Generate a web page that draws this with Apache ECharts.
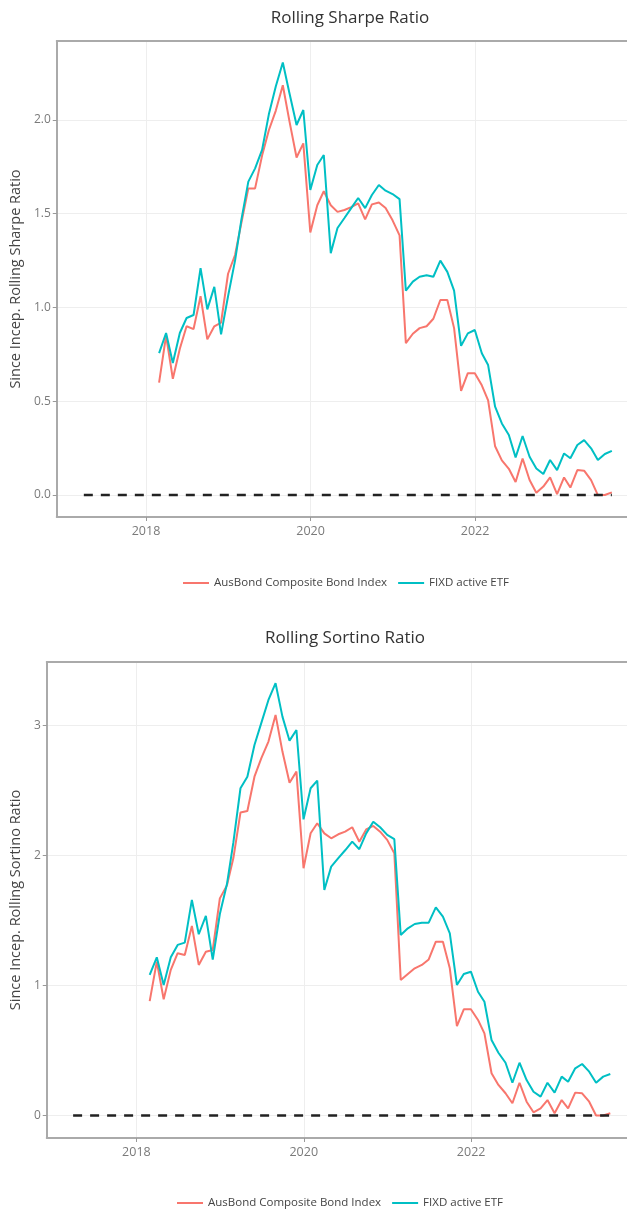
<!DOCTYPE html>
<html>
<head>
<meta charset="utf-8">
<script src="https://cdn.jsdelivr.net/npm/echarts@6/dist/echarts.min.js"></script>
<style>
html,body{margin:0;padding:0;background:#fff;}
#chart{width:627px;height:1209px;}
</style>
</head>
<body>
<div id="chart"></div>
<script>
// Month-end observation dates
const dates = [
 '2018-02-28','2018-03-31','2018-04-30','2018-05-31','2018-06-30','2018-07-31','2018-08-31','2018-09-30','2018-10-31','2018-11-30','2018-12-31',
 '2019-01-31','2019-02-28','2019-03-31','2019-04-30','2019-05-31','2019-06-30','2019-07-31','2019-08-31','2019-09-30','2019-10-31','2019-11-30','2019-12-31',
 '2020-01-31','2020-02-29','2020-03-31','2020-04-30','2020-05-31','2020-06-30','2020-07-31','2020-08-31','2020-09-30','2020-10-31','2020-11-30','2020-12-31',
 '2021-01-31','2021-02-28','2021-03-31','2021-04-30','2021-05-31','2021-06-30','2021-07-31','2021-08-31','2021-09-30','2021-10-31','2021-11-30','2021-12-31',
 '2022-01-31','2022-02-28','2022-03-31','2022-04-30','2022-05-31','2022-06-30','2022-07-31','2022-08-31','2022-09-30','2022-10-31','2022-11-30','2022-12-31',
 '2023-01-31','2023-02-28','2023-03-31','2023-04-30','2023-05-31','2023-06-30','2023-07-31','2023-08-31'
];
const seriesNames = ['AusBond Composite Bond Index', 'FIXD active ETF'];

// Rolling Sharpe ratio
const sharpeAusBond = [
 0.60,0.85,0.62,0.78,0.90,0.885,1.06,0.83,0.90,0.92,1.18,
 1.28,1.45,1.635,1.635,1.81,1.945,2.05,2.185,1.99,1.80,1.875,1.40,
 1.545,1.62,1.545,1.51,1.52,1.535,1.555,1.47,1.55,1.56,1.53,1.465,
 1.385,0.81,0.86,0.89,0.90,0.94,1.04,1.04,0.89,0.555,0.65,0.65,
 0.585,0.505,0.26,0.185,0.14,0.07,0.195,0.08,0.012,0.045,0.094,0.005,
 0.094,0.04,0.133,0.13,0.08,0.0,0.0,0.014
];
const sharpeFIXD = [
 0.757,0.864,0.704,0.864,0.944,0.96,1.21,0.99,1.11,0.857,1.06,
 1.25,1.467,1.671,1.742,1.84,2.03,2.18,2.306,2.14,1.973,2.053,1.627,
 1.76,1.813,1.29,1.424,1.477,1.53,1.584,1.53,1.60,1.653,1.623,1.605,
 1.578,1.09,1.138,1.164,1.172,1.164,1.25,1.19,1.09,0.796,0.862,0.88,
 0.756,0.693,0.471,0.382,0.32,0.201,0.315,0.204,0.142,0.112,0.187,0.133,
 0.222,0.196,0.267,0.293,0.249,0.187,0.219,0.236
];

// Rolling Sortino ratio
const sortinoAusBond = [
 0.88,1.183,0.894,1.12,1.248,1.235,1.458,1.158,1.26,1.273,1.67,
 1.77,1.98,2.33,2.342,2.606,2.748,2.876,3.081,2.799,2.56,2.645,1.902,
 2.171,2.248,2.17,2.132,2.163,2.183,2.217,2.106,2.20,2.227,2.183,2.12,
 2.017,1.042,1.088,1.132,1.158,1.20,1.337,1.337,1.132,0.688,0.817,0.817,
 0.735,0.632,0.325,0.235,0.171,0.094,0.252,0.106,0.025,0.055,0.119,0.017,
 0.119,0.055,0.176,0.171,0.106,0.0,0.0,0.017
];
const sortinoFIXD = [
 1.081,1.217,1.004,1.217,1.312,1.33,1.658,1.394,1.535,1.20,1.55,
 1.78,2.10,2.517,2.606,2.85,3.02,3.196,3.325,3.068,2.883,2.965,2.278,
 2.517,2.576,1.735,1.914,1.98,2.04,2.106,2.048,2.17,2.26,2.217,2.158,
 2.125,1.388,1.44,1.473,1.483,1.483,1.601,1.529,1.401,1.004,1.088,1.106,
 0.952,0.875,0.581,0.483,0.406,0.252,0.406,0.273,0.183,0.145,0.252,0.176,
 0.299,0.26,0.363,0.396,0.337,0.252,0.299,0.319
];

// zero reference line span
const zeroLineDates = ['2017-03-31', '2023-08-31'];
const zeroLineValues = [0, 0];

const xTickYears = [2018, 2020, 2022];
const sharpeTicks = [0, 0.5, 1, 1.5, 2];
const sortinoTicks = [0, 1, 2, 3];

const colors = ['#F8766D', '#00BFC4'];
// date string -> fractional year (for a continuous date scale)
function decYear(s) {
  const [y, m, d] = s.split('-').map(Number);
  const t0 = Date.UTC(y, 0, 1), t1 = Date.UTC(y + 1, 0, 1);
  return y + (Date.UTC(y, m - 1, d) - t0) / (t1 - t0);
}
const pairs = (xs, ys) => xs.map((d, i) => [decYear(xs[i]), ys[i]]);

// layout: plot areas run to the right edge (reference is cropped there)
const W = 627;
const G1 = {left: 53, top: 41, height: 476, pxPerYear: 82.8, x0: 2016.915};
const G2 = {left: 42.5, top: 662, height: 476, pxPerYear: 84.3, x0: 2016.929};
const AXIS_COLOR = '#aaaaaa';

function xAxisBottom(gridIndex, g) {
  return {
    type: 'value', gridIndex, position: 'bottom', min: g.x0, max: g.x0 + (W - g.left) / g.pxPerYear,
    axisLine: {show: true, onZero: false, lineStyle: {color: AXIS_COLOR, width: 2}},
    axisTick: {show: true, customValues: xTickYears, length: 4, lineStyle: {color: '#999'}},
    axisLabel: {customValues: xTickYears, formatter: v => String(Math.round(v)),
      color: '#7a7a7a', fontSize: 12.5, fontFamily: 'Open Sans', margin: 8},
    splitLine: {show: true, lineStyle: {color: '#eeeeee', width: 1}}
  };
}
function xAxisTop(gridIndex) {
  return {
    type: 'value', gridIndex, position: 'top', min: 0, max: 1,
    axisLine: {show: true, onZero: false, lineStyle: {color: AXIS_COLOR, width: 2}},
    axisTick: {show: false}, axisLabel: {show: false}, splitLine: {show: false}
  };
}
function yAxis(gridIndex, min, max, ticks, fmt, name, gap) {
  return {
    type: 'value', gridIndex, min, max,
    name, nameLocation: 'middle', nameRotate: 90, nameGap: gap,
    nameTextStyle: {color: '#444', fontSize: 14.5, fontFamily: 'Open Sans'},
    axisLine: {show: true, onZero: false, lineStyle: {color: AXIS_COLOR, width: 2}},
    axisTick: {show: true, customValues: ticks, length: 4, lineStyle: {color: '#999'}},
    axisLabel: {customValues: ticks, formatter: fmt, color: '#7a7a7a', fontSize: 12,
      fontFamily: 'Open Sans', margin: 6},
    splitLine: {show: true, lineStyle: {color: '#eeeeee', width: 1}}
  };
}
function dataSeries(name, xIdx, yIdx, values, color) {
  return {
    name, type: 'line', xAxisIndex: xIdx, yAxisIndex: yIdx, data: pairs(dates, values),
    symbol: 'none', showSymbol: false, lineStyle: {color, width: 2}, itemStyle: {color},
    animation: false, z: 3
  };
}
function zeroSeries(xIdx, yIdx) {
  return {
    name: 'zero', type: 'line', xAxisIndex: xIdx, yAxisIndex: yIdx,
    data: pairs(zeroLineDates, zeroLineValues), symbol: 'none', silent: true,
    lineStyle: {color: '#222', width: 2.5, type: [9, 8]}, animation: false, z: 4
  };
}
function legend(left, top) {
  return {data: seriesNames, left, top, icon: 'rect', itemWidth: 26, itemHeight: 2, itemGap: 11,
    textStyle: {color: '#444', fontSize: 11.5, fontFamily: 'Open Sans'}};
}
function grid(g) {
  return {left: g.left, top: g.top, right: 0, height: g.height, show: false};
}

const chart = echarts.init(document.getElementById('chart'), null, {renderer: 'canvas'});
chart.setOption({
  backgroundColor: '#fff',
  animation: false,
  color: colors,
  title: [
    {text: 'Rolling Sharpe Ratio', left: 345, top: 5, textAlign: 'center',
     textStyle: {color: '#333', fontSize: 17, fontWeight: 'normal', fontFamily: 'Open Sans'}},
    {text: 'Rolling Sortino Ratio', left: 340, top: 625, textAlign: 'center',
     textStyle: {color: '#333', fontSize: 17, fontWeight: 'normal', fontFamily: 'Open Sans'}}
  ],
  legend: [legend(178, 572), legend(172, 1192)],
  grid: [grid(G1), grid(G2)],
  xAxis: [xAxisBottom(0, G1), xAxisTop(0), xAxisBottom(1, G2), xAxisTop(1)],
  yAxis: [
    yAxis(0, -0.117, 2.421, sharpeTicks, v => Number(v).toFixed(1), 'Since Incep. Rolling Sharpe Ratio', 27),
    yAxis(1, -0.173, 3.488, sortinoTicks, v => String(v), 'Since Incep. Rolling Sortino Ratio', 16.5)
  ],
  series: [
    dataSeries(seriesNames[0], 0, 0, sharpeAusBond, colors[0]),
    dataSeries(seriesNames[1], 0, 0, sharpeFIXD, colors[1]),
    zeroSeries(0, 0),
    dataSeries(seriesNames[0], 2, 1, sortinoAusBond, colors[0]),
    dataSeries(seriesNames[1], 2, 1, sortinoFIXD, colors[1]),
    zeroSeries(2, 1)
  ]
});
</script>
</body>
</html>
